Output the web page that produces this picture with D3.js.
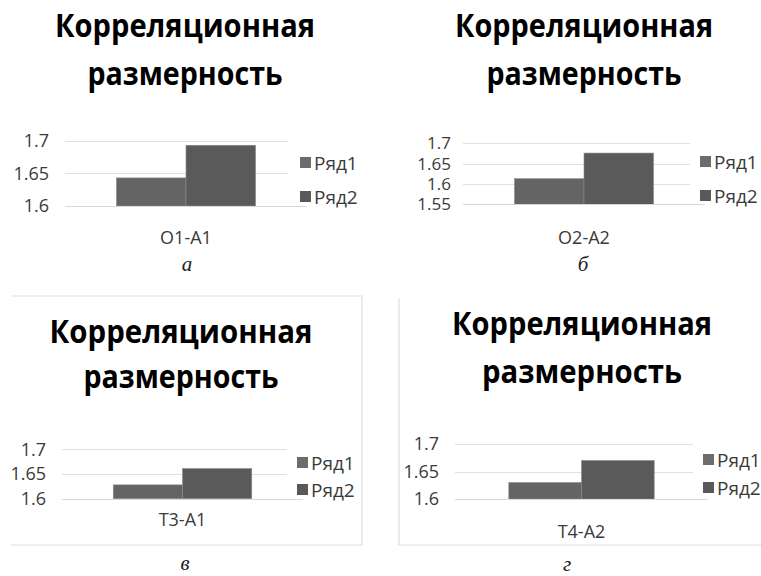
<!DOCTYPE html>
<html>
<head>
<meta charset="utf-8">
<script src="https://cdn.jsdelivr.net/npm/d3@7"></script>
<style>
  html, body { margin: 0; padding: 0; background: #fff; }
  svg { display: block; }
</style>
</head>
<body>
<svg id="chart" width="761" height="576"></svg>
<script>
// Correlation dimension, four small bar charts (two series each)
const categories = ["O1-A1", "O2-A2", "T3-A1", "T4-A2"];
const seriesNames = ["Ряд1", "Ряд2"];
const series1 = [1.643, 1.613, 1.628, 1.630];
const series2 = [1.693, 1.676, 1.661, 1.670];
const yDomains = [[1.6, 1.7], [1.55, 1.7], [1.6, 1.7], [1.6, 1.7]];
const tickValues = [
  [1.6, 1.65, 1.7],
  [1.55, 1.6, 1.65, 1.7],
  [1.6, 1.65, 1.7],
  [1.6, 1.65, 1.7]
];
const titleLines = ["Корреляционная", "размерность"];
const captions = ["а", "б", "в", "г"];

const seriesColors = ["#646464", "#5a5a5a"];
const legendColors = ["#6c6c6c", "#595959"];

// Placement of each panel on the page
const layout = [
  { titleX: 185, titleY: [37, 85], titleW: [260, 195], x0: 65, x1: 307, gridEnd: 288,
    yTop: 140.7, yBot: 206, tickPad: 16, tickSize: 18,
    catY: 244, capX: 187, capY: 271, legX: 300, legY: [163, 197] },
  { titleX: 584, titleY: [37, 85], titleW: [258, 195], x0: 463, x1: 705, gridEnd: 690,
    yTop: 143.3, yBot: 204.3, tickPad: 12, tickSize: 17,
    catY: 244, capX: 583, capY: 271, legX: 700, legY: [162, 196] },
  { titleX: 181, titleY: [343, 388], titleW: [263, 195], x0: 62, x1: 303, gridEnd: 287,
    yTop: 449.3, yBot: 498.7, tickPad: 16, tickSize: 18,
    catY: 526, capX: 185, capY: 570, legX: 297, legY: [463, 490] },
  { titleX: 582, titleY: [335, 383], titleW: [260, 200], x0: 455, x1: 708, gridEnd: 693,
    yTop: 444, yBot: 499, tickPad: 16, tickSize: 18,
    catY: 538, capX: 567, capY: 571, legX: 703, legY: [460, 488] }
];

const svg = d3.select("#chart");
const frameColor = "#dedede";
const labelFont = "'Open Sans', sans-serif";

// Outline pieces of the lower two chart frames
const frames = [
  [[11, 296], [362, 296], [362, 545], [11, 545]],
  [[399, 298], [399, 545], [761, 545]]
];
svg.selectAll("path.frame")
  .data(frames)
  .join("path")
  .attr("class", "frame")
  .attr("d", d3.line())
  .attr("fill", "none")
  .attr("stroke", frameColor)
  .attr("stroke-width", 1.2);

categories.forEach((cat, i) => {
  const L = layout[i];
  const g = svg.append("g");

  // Title, two centred lines
  g.append("g")
    .selectAll("text")
    .data(titleLines)
    .join("text")
    .attr("x", L.titleX)
    .attr("y", (d, k) => L.titleY[k])
    .attr("text-anchor", "middle")
    .attr("font-family", labelFont)
    .attr("font-weight", 700)
    .attr("font-size", 32)
    .attr("textLength", (d, k) => L.titleW[k])
    .attr("lengthAdjust", "spacingAndGlyphs")
    .attr("fill", "#000")
    .text(d => d);

  const y = d3.scaleLinear().domain(yDomains[i]).range([L.yBot, L.yTop]);
  const x = d3.scaleBand().domain([cat]).range([L.x0, L.x1])
    .paddingInner(0).paddingOuter(0.37);
  const xs = d3.scaleBand().domain(seriesNames).range([0, x.bandwidth()]);

  // Horizontal gridlines (baseline drawn separately, full width)
  g.append("g")
    .selectAll("line")
    .data(tickValues[i].filter(v => v !== yDomains[i][0]))
    .join("line")
    .attr("x1", L.x0).attr("x2", L.gridEnd)
    .attr("y1", d => Math.round(y(d)) + 0.5)
    .attr("y2", d => Math.round(y(d)) + 0.5)
    .attr("stroke", "#e0e0e0")
    .attr("stroke-width", 1);

  // Bars
  const vals = [series1[i], series2[i]];
  g.append("g")
    .selectAll("rect")
    .data(seriesNames.map((s, k) => ({ s, v: vals[k], k })))
    .join("rect")
    .attr("x", d => x(cat) + xs(d.s))
    .attr("width", xs.bandwidth())
    .attr("y", d => y(d.v))
    .attr("height", d => y(yDomains[i][0]) - y(d.v))
    .attr("fill", d => seriesColors[d.k])
    .attr("stroke", "#8a8a8a")
    .attr("stroke-width", 0.6);

  // Category axis line
  g.append("line")
    .attr("x1", L.x0).attr("x2", L.x1)
    .attr("y1", Math.round(y(yDomains[i][0])) + 0.5)
    .attr("y2", Math.round(y(yDomains[i][0])) + 0.5)
    .attr("stroke", "#d9d9d9");

  // Value axis labels
  const axis = d3.axisLeft(y).tickValues(tickValues[i]).tickSize(0).tickPadding(L.tickPad)
    .tickFormat(d3.format("~g"));
  const ag = g.append("g").attr("transform", `translate(${L.x0},0)`).call(axis);
  ag.select(".domain").remove();
  ag.selectAll("text")
    .attr("font-family", labelFont)
    .attr("font-size", L.tickSize)
    .attr("fill", "#3a3a3a");

  // Category label
  g.append("text")
    .attr("x", x(cat) + x.bandwidth() / 2)
    .attr("y", L.catY)
    .attr("text-anchor", "middle")
    .attr("font-family", labelFont)
    .attr("font-size", 18)
    .attr("fill", "#3a3a3a")
    .text(cat);

  // Legend
  const lg = g.append("g");
  seriesNames.forEach((s, k) => {
    lg.append("rect")
      .attr("x", L.legX).attr("y", L.legY[k] - 6)
      .attr("width", 11).attr("height", 11)
      .attr("fill", legendColors[k]);
    lg.append("text")
      .attr("x", L.legX + 14).attr("y", L.legY[k])
      .attr("dy", "0.35em")
      .attr("font-family", labelFont)
      .attr("font-size", 19)
      .attr("fill", "#3a3a3a")
      .text(s);
  });

  // Panel caption
  g.append("text")
    .attr("x", L.capX).attr("y", L.capY)
    .attr("text-anchor", "middle")
    .attr("font-family", "'Liberation Serif', serif")
    .attr("font-style", "italic")
    .attr("font-size", 21)
    .attr("fill", "#222")
    .text(captions[i]);
});
</script>
</body>
</html>
